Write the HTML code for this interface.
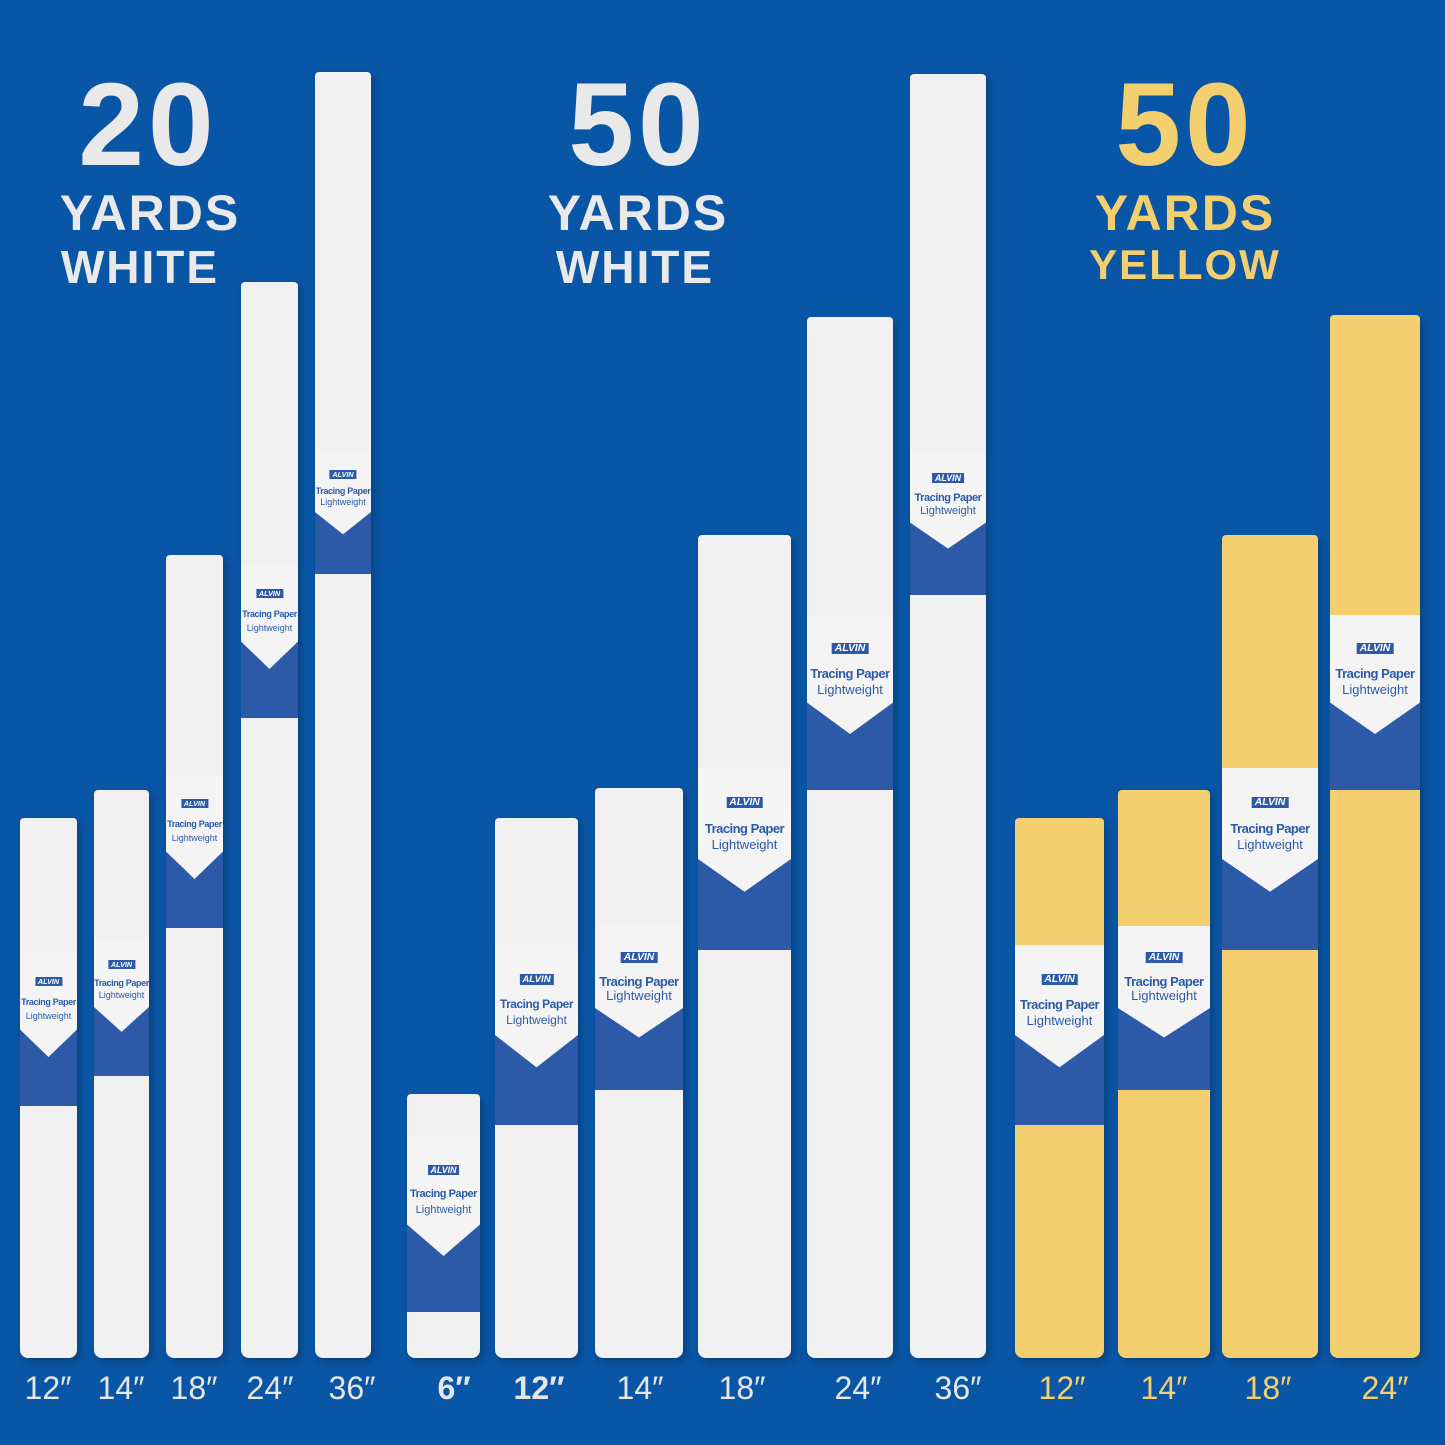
<!DOCTYPE html>
<html><head><style>
body{margin:0;width:1445px;height:1445px;background:#0a56a6;position:relative;overflow:hidden;font-family:"Liberation Sans",sans-serif}
.r{position:absolute;background:#f1f1f1;border-radius:4px 4px 8px 8px;box-shadow:3px 4px 8px rgba(0,0,0,.25)}
.y{background:#f4cf6f}
.l{position:absolute;left:0;right:0;background:#2c5aa8;overflow:hidden}
.w{position:absolute;inset:0;background:#f4f4f4;clip-path:polygon(0 0,100% 0,100% 50%,50% 68%,0 50%)}
.l b{position:absolute;left:50%;top:16%;transform:translateX(-50%);background:#2c5aa8;color:#fff;font-size:.8em;padding:0 3px;font-style:italic}
.l i{position:absolute;left:0;right:0;top:29%;text-align:center;color:#2c5aa8;font-weight:bold;font-style:normal;white-space:nowrap;letter-spacing:-.04em}
.l s{position:absolute;left:0;right:0;top:38%;text-align:center;color:#2c5aa8;text-decoration:none;white-space:nowrap}
.h{position:absolute;text-align:center;color:#e9e9e9;font-weight:bold;width:300px;line-height:1}
.n{font-size:118px;letter-spacing:4px}
.t{font-size:50px;letter-spacing:2px}
.lb{position:absolute;top:1370px;width:80px;text-align:center;color:#e6e6e6;font-size:32px}
.yl{color:#f4cf6f}
</style></head><body>
<div class="h n" style="left:-2px;top:66px">20</div>
<div class="h t" style="left:0;top:188px">YARDS</div>
<div class="h t" style="left:-10px;top:244px;font-size:46px">WHITE</div>
<div class="h n" style="left:488px;top:66px">50</div>
<div class="h t" style="left:488px;top:188px">YARDS</div>
<div class="h t" style="left:485px;top:244px;font-size:46px">WHITE</div>
<div class="h n yl" style="left:1035px;top:66px">50</div>
<div class="h t yl" style="left:1035px;top:188px">YARDS</div>
<div class="h t yl" style="left:1035px;top:244px;font-size:42px">YELLOW</div>

<div class="r" style="left:20px;top:818px;width:57px;height:540px;font-size:9px"><div class="l" style="top:135px;height:153px"><div class="w"></div><b>ALVIN</b><i>Tracing Paper</i><s>Lightweight</s></div></div>
<div class="r" style="left:94px;top:790px;width:55px;height:568px;font-size:9px"><div class="l" style="top:148px;height:138px"><div class="w"></div><b>ALVIN</b><i>Tracing Paper</i><s>Lightweight</s></div></div>
<div class="r" style="left:166px;top:555px;width:57px;height:803px;font-size:9px"><div class="l" style="top:220px;height:153px"><div class="w"></div><b>ALVIN</b><i>Tracing Paper</i><s>Lightweight</s></div></div>
<div class="r" style="left:241px;top:282px;width:57px;height:1076px;font-size:9px"><div class="l" style="top:283px;height:153px"><div class="w"></div><b>ALVIN</b><i>Tracing Paper</i><s>Lightweight</s></div></div>
<div class="r" style="left:315px;top:72px;width:56px;height:1286px;font-size:9px"><div class="l" style="top:378px;height:124px"><div class="w"></div><b>ALVIN</b><i>Tracing Paper</i><s>Lightweight</s></div></div>

<div class="r" style="left:407px;top:1094px;width:73px;height:264px;font-size:11px"><div class="l" style="top:43px;height:175px"><div class="w"></div><b>ALVIN</b><i>Tracing Paper</i><s>Lightweight</s></div></div>
<div class="r" style="left:495px;top:818px;width:83px;height:540px;font-size:12px"><div class="l" style="top:127px;height:180px"><div class="w"></div><b>ALVIN</b><i>Tracing Paper</i><s>Lightweight</s></div></div>
<div class="r" style="left:595px;top:788px;width:88px;height:570px;font-size:13px"><div class="l" style="top:138px;height:164px"><div class="w"></div><b>ALVIN</b><i>Tracing Paper</i><s>Lightweight</s></div></div>
<div class="r" style="left:698px;top:535px;width:93px;height:823px;font-size:13px"><div class="l" style="top:233px;height:182px"><div class="w"></div><b>ALVIN</b><i>Tracing Paper</i><s>Lightweight</s></div></div>
<div class="r" style="left:807px;top:317px;width:86px;height:1041px;font-size:13px"><div class="l" style="top:298px;height:175px"><div class="w"></div><b>ALVIN</b><i>Tracing Paper</i><s>Lightweight</s></div></div>
<div class="r" style="left:910px;top:74px;width:76px;height:1284px;font-size:11px"><div class="l" style="top:376px;height:145px"><div class="w"></div><b>ALVIN</b><i>Tracing Paper</i><s>Lightweight</s></div></div>

<div class="r y" style="left:1015px;top:818px;width:89px;height:540px;font-size:13px"><div class="l" style="top:127px;height:180px"><div class="w"></div><b>ALVIN</b><i>Tracing Paper</i><s>Lightweight</s></div></div>
<div class="r y" style="left:1118px;top:790px;width:92px;height:568px;font-size:13px"><div class="l" style="top:136px;height:164px"><div class="w"></div><b>ALVIN</b><i>Tracing Paper</i><s>Lightweight</s></div></div>
<div class="r y" style="left:1222px;top:535px;width:96px;height:823px;font-size:13px"><div class="l" style="top:233px;height:182px"><div class="w"></div><b>ALVIN</b><i>Tracing Paper</i><s>Lightweight</s></div></div>
<div class="r y" style="left:1330px;top:315px;width:90px;height:1043px;font-size:13px"><div class="l" style="top:300px;height:175px"><div class="w"></div><b>ALVIN</b><i>Tracing Paper</i><s>Lightweight</s></div></div>

<div class="lb" style="left:8px">12″</div>
<div class="lb" style="left:81px">14″</div>
<div class="lb" style="left:154px">18″</div>
<div class="lb" style="left:230px">24″</div>
<div class="lb" style="left:312px">36″</div>
<div class="lb" style="left:414px;font-weight:bold">6″</div>
<div class="lb" style="left:499px;font-weight:bold">12″</div>
<div class="lb" style="left:600px">14″</div>
<div class="lb" style="left:702px">18″</div>
<div class="lb" style="left:818px">24″</div>
<div class="lb" style="left:918px">36″</div>
<div class="lb yl" style="left:1022px">12″</div>
<div class="lb yl" style="left:1124px">14″</div>
<div class="lb yl" style="left:1228px">18″</div>
<div class="lb yl" style="left:1345px">24″</div>
</body></html>
